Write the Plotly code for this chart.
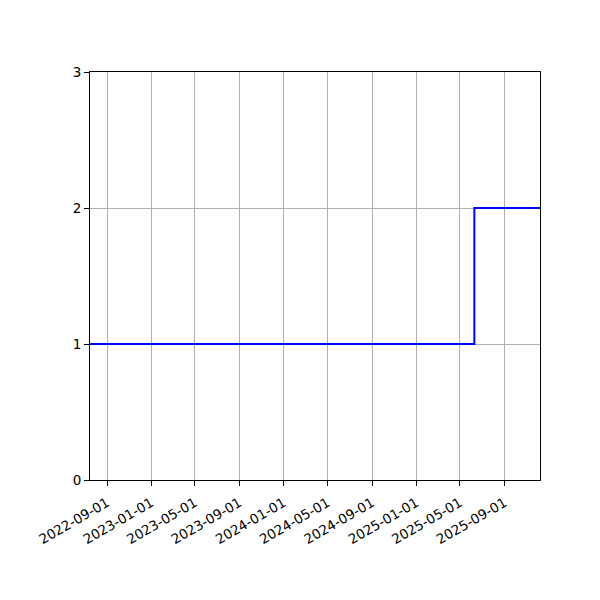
import plotly.graph_objects as go

# step series: value changes at each date
dates = ["2022-07-16", "2025-06-10", "2025-12-08"]
values = [1, 2, 2]

tick_dates = ["2022-09-01", "2023-01-01", "2023-05-01", "2023-09-01", "2024-01-01",
              "2024-05-01", "2024-09-01", "2025-01-01", "2025-05-01", "2025-09-01"]
y_ticks = [0, 1, 2, 3]

fig = go.Figure(
    go.Scatter(
        x=dates,
        y=values,
        mode="lines",
        line=dict(color="blue", width=2, shape="hv"),
        showlegend=False,
    )
)

# page body adds an 8px offset, so margins are shifted to compensate
fig.update_layout(
    width=600,
    height=600,
    margin=dict(l=82, r=68, t=64, b=128),
    paper_bgcolor="white",
    plot_bgcolor="white",
    font=dict(family="DejaVu Sans", size=13.5, color="black"),
)

fig.update_xaxes(
    range=[dates[0], dates[-1]],
    tickvals=tick_dates,
    ticktext=tick_dates,
    tickangle=-30,
    ticks="outside",
    ticklen=5,
    tickcolor="black",
    ticklabelstandoff=4,
    showline=True,
    linecolor="black",
    linewidth=1,
    mirror=True,
    showgrid=True,
    gridcolor="#b0b0b0",
    gridwidth=1,
    zeroline=False,
)

fig.update_yaxes(
    range=[0, 3],
    tickvals=y_ticks,
    ticks="outside",
    ticklen=5,
    tickcolor="black",
    showline=True,
    linecolor="black",
    linewidth=1,
    mirror=True,
    showgrid=True,
    gridcolor="#b0b0b0",
    gridwidth=1,
    zeroline=False,
)

fig.write_html("out.html")
